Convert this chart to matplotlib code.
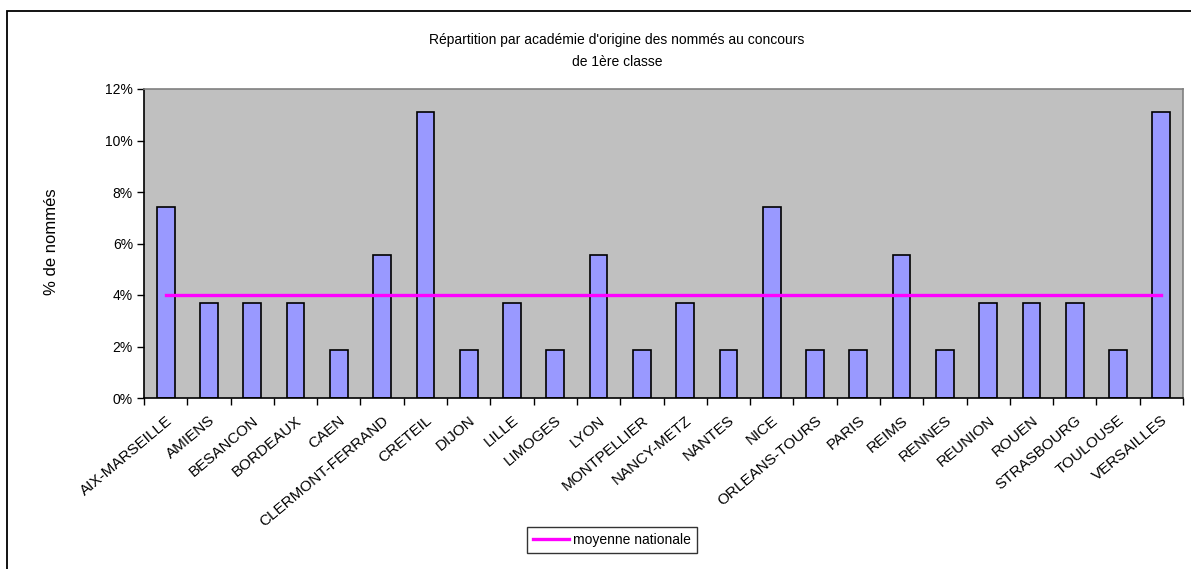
import matplotlib
matplotlib.use('Agg')
import matplotlib.pyplot as plt
from matplotlib.lines import Line2D
from matplotlib.patches import Rectangle
import numpy as np

academies = ['AIX-MARSEILLE', 'AMIENS', 'BESANCON', 'BORDEAUX', 'CAEN',
             'CLERMONT-FERRAND', 'CRETEIL', 'DIJON', 'LILLE', 'LIMOGES',
             'LYON', 'MONTPELLIER', 'NANCY-METZ', 'NANTES', 'NICE',
             'ORLEANS-TOURS', 'PARIS', 'REIMS', 'RENNES', 'REUNION',
             'ROUEN', 'STRASBOURG', 'TOULOUSE', 'VERSAILLES']
pct_nommes = [7.41, 3.70, 3.70, 3.70, 1.85, 5.56, 11.11, 1.85, 3.70, 1.85,
              5.56, 1.85, 3.70, 1.85, 7.41, 1.85, 1.85, 5.56, 1.85, 3.70,
              3.70, 3.70, 1.85, 11.11]
moyenne_nationale = 4.0
y_ticks = [0, 2, 4, 6, 8, 10, 12]

plt.rcParams['font.family'] = ['Liberation Sans', 'DejaVu Sans']

W, H = 1191, 569
fig = plt.figure(figsize=(W / 100, H / 100), dpi=100)
fig.patch.set_facecolor('white')

# zone du graphique (en pixels -> fraction)
left, right, top, bottom = 144, 1183, 89, 398
ax = fig.add_axes([left / W, 1 - bottom / H, (right - left) / W, (bottom - top) / H])
ax.set_facecolor('#C0C0C0')

x = np.arange(len(academies))
ax.bar(x, pct_nommes, width=0.41, color='#9999FF', edgecolor='black',
       linewidth=1.2, zorder=2)
ax.plot(x, [moyenne_nationale] * len(x), color='#FF00FF', linewidth=2.4, zorder=3)

ax.set_xlim(-0.5, len(academies) - 0.5)
ax.set_ylim(0, 12)
ax.set_yticks(y_ticks)
ax.set_yticklabels([f'{v}%' for v in y_ticks], fontsize=10)
ax.tick_params(axis='y', direction='out', length=5, width=1, pad=3)

ax.set_xticks(x)
ax.set_xticklabels(academies, fontsize=11, rotation=40, ha='right',
                   va='top', rotation_mode='anchor')
ax.tick_params(axis='x', which='major', length=0, pad=11)
ax.set_xticks(np.arange(-0.5, len(academies)), minor=True)
ax.tick_params(axis='x', which='minor', direction='out', length=5, width=1)

for s in ['left', 'bottom']:
    ax.spines[s].set_color('black')
    ax.spines[s].set_linewidth(1.2)
for s in ['top', 'right']:
    ax.spines[s].set_color('#808080')
    ax.spines[s].set_linewidth(1.2)

fig.text(52 / W, 1 - 242 / H, '% de nommés', rotation=90, fontsize=12,
         ha='center', va='center')
fig.text(617 / W, 1 - 40 / H, "Répartition par académie d'origine des nommés au concours",
         fontsize=10, ha='center', va='center')
fig.text(617 / W, 1 - 62 / H, 'de 1ère classe', fontsize=10, ha='center', va='center')

# cadre extérieur (coupé à droite et en bas)
fig.add_artist(Rectangle((7 / W, -0.1), 1.2, 1 - 11 / H + 0.1,
                         transform=fig.transFigure, fill=False,
                         edgecolor='black', linewidth=1.3))

handle = Line2D([], [], color='#FF00FF', linewidth=2.4)
leg = fig.legend([handle], ['moyenne nationale'], loc='center',
                 bbox_to_anchor=(612 / W, 1 - 540 / H), fontsize=10,
                 frameon=True, fancybox=False, handlelength=2.6,
                 handletextpad=0.3, borderpad=0.45)
leg.get_frame().set_edgecolor('black')
leg.get_frame().set_linewidth(1.0)

fig.savefig('out.png', dpi=100)
